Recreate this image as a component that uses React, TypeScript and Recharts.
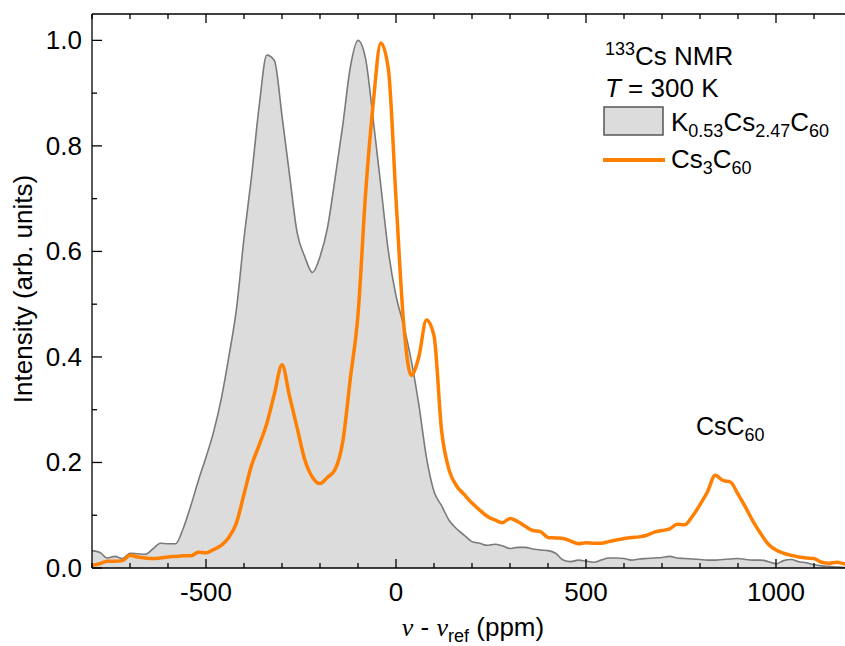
import { ComposedChart, Area, Line, XAxis, YAxis, Legend } from 'recharts'

const FONT = '"Liberation Sans", Arial, sans-serif'

// chemical shift (ppm), shared by both spectra
const ppm = [
  -800, -780, -760, -740, -720, -700, -680, -660, -640, -620,
  -600, -580, -560, -540, -520, -500, -480, -460, -440, -420,
  -400, -380, -360, -340, -320, -300, -280, -260, -240, -220,
  -200, -180, -160, -140, -120, -100, -80, -60, -40, -20,
  0, 20, 40, 60, 80, 100, 120, 140, 160, 180,
  200, 220, 240, 260, 280, 300, 320, 340, 360, 380,
  400, 420, 440, 460, 480, 500, 520, 540, 560, 580,
  600, 620, 640, 660, 680, 700, 720, 740, 760, 780,
  800, 820, 840, 860, 880, 900, 920, 940, 960, 980,
  1000, 1020, 1040, 1060, 1080, 1100, 1120, 1140, 1160, 1180,
  1200,
]

// K0.53Cs2.47C60
const kcsIntensity = [
  0.033, 0.030, 0.019, 0.022, 0.018, 0.028, 0.027, 0.026, 0.036, 0.047,
  0.046, 0.046, 0.075, 0.118, 0.166, 0.21, 0.258, 0.32, 0.40, 0.49,
  0.625, 0.743, 0.876, 0.972, 0.962, 0.857, 0.744, 0.635, 0.59, 0.56,
  0.59, 0.646, 0.74, 0.84, 0.95, 1.0, 0.965, 0.85, 0.725, 0.60,
  0.516, 0.46, 0.394, 0.31, 0.21, 0.145, 0.118, 0.09, 0.074, 0.062,
  0.05, 0.047, 0.043, 0.045, 0.042, 0.037, 0.039, 0.039, 0.036, 0.034,
  0.033, 0.028, 0.015, 0.012, 0.015, 0.013, 0.011, 0.015, 0.019, 0.019,
  0.018, 0.015, 0.017, 0.018, 0.019, 0.02, 0.022, 0.019, 0.018, 0.017,
  0.016, 0.015, 0.015, 0.016, 0.017, 0.018, 0.016, 0.015, 0.015, 0.012,
  0.008, 0.014, 0.016, 0.012, 0.01, 0.006, 0.004, 0.003, 0.002, 0.001,
  0.001,
]

// Cs3C60
const cs3Intensity = [
  0.005, 0.008, 0.013, 0.013, 0.014, 0.024, 0.021, 0.019, 0.018, 0.019,
  0.021, 0.022, 0.023, 0.023, 0.030, 0.029, 0.035, 0.043, 0.058, 0.085,
  0.14, 0.195, 0.233, 0.274, 0.33, 0.385, 0.325, 0.265, 0.205, 0.172,
  0.16, 0.172, 0.187, 0.24, 0.36, 0.48, 0.71, 0.88, 0.995, 0.945,
  0.70, 0.465, 0.365, 0.40, 0.47, 0.44, 0.26, 0.185, 0.155, 0.139,
  0.123, 0.11, 0.098, 0.091, 0.086, 0.094, 0.088, 0.079, 0.071, 0.069,
  0.058, 0.057, 0.056, 0.051, 0.046, 0.048, 0.047, 0.047, 0.05, 0.053,
  0.056, 0.058, 0.059, 0.062, 0.068, 0.071, 0.074, 0.083, 0.082, 0.098,
  0.12, 0.145, 0.176, 0.166, 0.163, 0.14, 0.115, 0.088, 0.065, 0.045,
  0.034, 0.028, 0.024, 0.021, 0.019, 0.018, 0.011, 0.009, 0.011, 0.008,
  0.006,
]

const xTicks = [-800, -700, -600, -500, -400, -300, -200, -100, 0, 100, 200, 300, 400, 500, 600, 700, 800, 900, 1000, 1100, 1200]
const xLabelTicks = [-500, 0, 500, 1000]
const yTicks = [0, 0.1, 0.2, 0.3, 0.4, 0.5, 0.6, 0.7, 0.8, 0.9, 1.0]
const yLabelTicks = [0, 0.2, 0.4, 0.6, 0.8, 1.0]

const chartData = ppm.map((p, i) => ({ ppm: p, kcs: kcsIntensity[i], cs3: cs3Intensity[i] }))

function XTick({ x, y, payload, top }: any) {
  const major = xLabelTicks.includes(payload.value)
  const len = major ? 9 : 5
  return (
    <g>
      <line x1={x} x2={x} y1={y} y2={top ? y + len : y - len} stroke="#000" strokeWidth={1.3} />
      {!top && major && (
        <text x={x} y={y + 33} textAnchor="middle" fontSize={26} fontFamily={FONT} fill="#000">
          {payload.value}
        </text>
      )}
    </g>
  )
}

function YTick({ x, y, payload, right }: any) {
  const major = yLabelTicks.some(v => Math.abs(v - payload.value) < 1e-6)
  const len = major ? 10 : 5
  return (
    <g>
      <line x1={x} x2={right ? x - len : x + len} y1={y} y2={y} stroke="#000" strokeWidth={1.3} />
      {!right && major && (
        <text x={x - 10} y={y + 9} textAnchor="end" fontSize={26} fontFamily={FONT} fill="#000">
          {payload.value.toFixed(1)}
        </text>
      )}
    </g>
  )
}

function Overlay() {
  return (
    <svg width={845} height={646} style={{ position: 'absolute', left: 0, top: 0 }}>
      <g fontFamily={FONT} fill="#000">
        <text x={605} y={65} fontSize={26}>
          <tspan fontSize={18} dy={-10}>133</tspan>
          <tspan dy={10}>Cs NMR</tspan>
        </text>
        <text x={605} y={97} fontSize={26}>
          <tspan fontStyle="italic">T</tspan>
          <tspan> = 300 K</tspan>
        </text>
        <rect x={604} y={107} width={59} height={28} fill="#dcdcdc" stroke="#555" strokeWidth={1.5} />
        <text x={671} y={131} fontSize={26}>
          <tspan>K</tspan>
          <tspan fontSize={18} dy={6}>0.53</tspan>
          <tspan dy={-6}>Cs</tspan>
          <tspan fontSize={18} dy={6}>2.47</tspan>
          <tspan dy={-6}>C</tspan>
          <tspan fontSize={18} dy={6}>60</tspan>
        </text>
        <line x1={603} x2={665} y1={160} y2={160} stroke="#ff7f00" strokeWidth={4} />
        <text x={671} y={168} fontSize={26}>
          <tspan>Cs</tspan>
          <tspan fontSize={18} dy={6}>3</tspan>
          <tspan dy={-6}>C</tspan>
          <tspan fontSize={18} dy={6}>60</tspan>
        </text>
        <text x={696} y={435} fontSize={25}>
          <tspan>CsC</tspan>
          <tspan fontSize={18} dy={6}>60</tspan>
        </text>
        <text transform="translate(32, 289) rotate(-90)" textAnchor="middle" fontSize={26}>
          Intensity (arb. units)
        </text>
        <text x={473} y={636} textAnchor="middle" fontSize={26}>
          <tspan fontStyle="italic" fontFamily='"Liberation Serif", serif'>ν</tspan>
          <tspan> - </tspan>
          <tspan fontStyle="italic" fontFamily='"Liberation Serif", serif'>ν</tspan>
          <tspan fontSize={18} dy={6}>ref</tspan>
          <tspan dy={-6}> (ppm)</tspan>
        </text>
      </g>
    </svg>
  )
}

export default function App() {
  return (
    <div style={{ position: 'absolute', left: 0, top: 0, width: 845, height: 646, overflow: 'hidden', background: '#fff' }}>
      <ComposedChart width={870} height={646} data={chartData} margin={{ top: 0, right: 0, bottom: 0, left: 0 }}>
        <XAxis
          dataKey="ppm"
          type="number"
          domain={[-800, 1200]}
          ticks={xTicks}
          interval={0}
          height={78}
          tickSize={0}
          tickMargin={0}
          tickLine={false}
          axisLine={{ stroke: '#000', strokeWidth: 1.3 }}
          tick={<XTick />}
        />
        <XAxis
          xAxisId="top"
          orientation="top"
          dataKey="ppm"
          type="number"
          domain={[-800, 1200]}
          ticks={xTicks}
          interval={0}
          height={14}
          tickSize={0}
          tickMargin={0}
          tickLine={false}
          axisLine={{ stroke: '#000', strokeWidth: 1.3 }}
          tick={<XTick top />}
        />
        <YAxis
          type="number"
          domain={[0, 1.05]}
          ticks={yTicks}
          interval={0}
          width={92}
          tickSize={0}
          tickMargin={0}
          tickLine={false}
          axisLine={{ stroke: '#000', strokeWidth: 1.3 }}
          tick={<YTick />}
        />
        <YAxis
          yAxisId="right"
          orientation="right"
          type="number"
          domain={[0, 1.05]}
          ticks={yTicks}
          interval={0}
          width={18}
          tickSize={0}
          tickMargin={0}
          tickLine={false}
          axisLine={{ stroke: '#000', strokeWidth: 1.3 }}
          tick={<YTick right />}
        />
        <Area
          type="monotone"
          dataKey="kcs"
          name="K0.53Cs2.47C60"
          stroke="#7a7a7a"
          strokeWidth={1.6}
          fill="#dcdcdc"
          fillOpacity={1}
          isAnimationActive={false}
        />
        <Line
          type="monotone"
          dataKey="cs3"
          name="Cs3C60"
          stroke="#ff7f00"
          strokeWidth={3.5}
          dot={false}
          isAnimationActive={false}
        />
        <Legend
          layout="horizontal"
          verticalAlign="middle"
          align="center"
          wrapperStyle={{ left: 0, top: 0, width: 845, height: 646, pointerEvents: 'none' }}
          content={() => <Overlay />}
        />
      </ComposedChart>
    </div>
  )
}
